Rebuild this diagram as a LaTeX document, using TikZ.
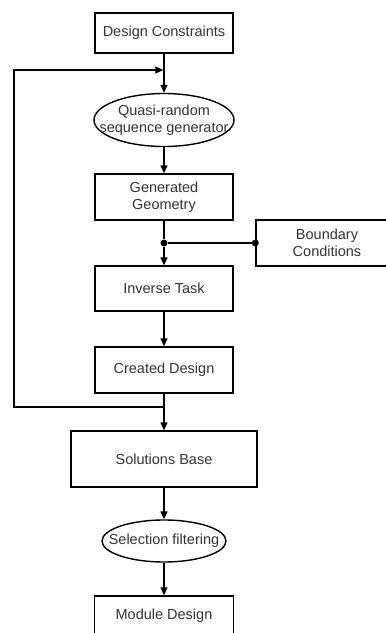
\documentclass[tikz,border=0pt]{standalone}
\usepackage{fontspec}
\setmainfont{Liberation Sans}
\usetikzlibrary{arrows.meta, shapes.geometric}

\begin{document}
\begin{tikzpicture}[x=1pt,y=-1pt,
    box/.style={draw,line width=1.4pt,inner sep=0pt,align=center,text=black!80,
      font=\fontsize{14.5}{16.5}\selectfont},
    oval/.style={box,ellipse,inner xsep=-20pt,inner ysep=-4pt},
    arr/.style={-{Triangle[length=8pt,width=7pt]},line width=1.4pt},
    dot/.style={circle,fill,inner sep=0pt,minimum size=7pt}]
        \useasboundingbox (0,0) rectangle (386,633);
        \node[box,minimum width=138pt,minimum height=40pt] (dc) at (164,33) {Design Constraints};
        \node[oval,minimum width=140pt,minimum height=53pt] (qrs) at (164,120) {Quasi-random\\sequence generator};
        \node[box,minimum width=138pt,minimum height=46pt] (gg) at (164,197) {Generated\\Geometry};
        \node[box,minimum width=142pt,minimum height=46pt] (bc) at (327,243) {Boundary\\Conditions};
        \node[box,minimum width=138pt,minimum height=45pt] (it) at (164,288.5) {Inverse Task};
        \node[box,minimum width=138pt,minimum height=46pt] (cd) at (164,370) {Created Design};
        \node[box,minimum width=186pt,minimum height=56pt] (sb) at (164,459) {Solutions Base};
        \node[oval,minimum width=124pt,minimum height=42pt] (sf) at (164,541) {Selection filtering};
        \node[box,minimum width=139pt,minimum height=40pt] (md) at (164,616) {Module Design};
        \node[dot] (jn) at (164,243) {};
        \node[dot] (jb) at (bc.west) {};
        \coordinate (top) at (164,70);
        \coordinate (tap) at (164,407);
        \coordinate (lc) at (14,407);
        % main line
        \draw[arr] (dc) -- (qrs);
        \draw[arr] (qrs) -- (gg);
        \draw[line width=1.4pt] (gg) -- (jn);
        \draw[arr] (jn) -- (it);
        \draw[line width=1.4pt] (jn) -- (jb);
        \draw[arr] (it) -- (cd);
        \draw[arr] (cd) -- (sb);
        \draw[arr] (sb) -- (sf);
        \draw[arr] (sf) -- (md);
        % feedback
        \draw[arr,shorten >=0.7pt] (tap) -- (lc) |- (top);
\end{tikzpicture}
\end{document}
